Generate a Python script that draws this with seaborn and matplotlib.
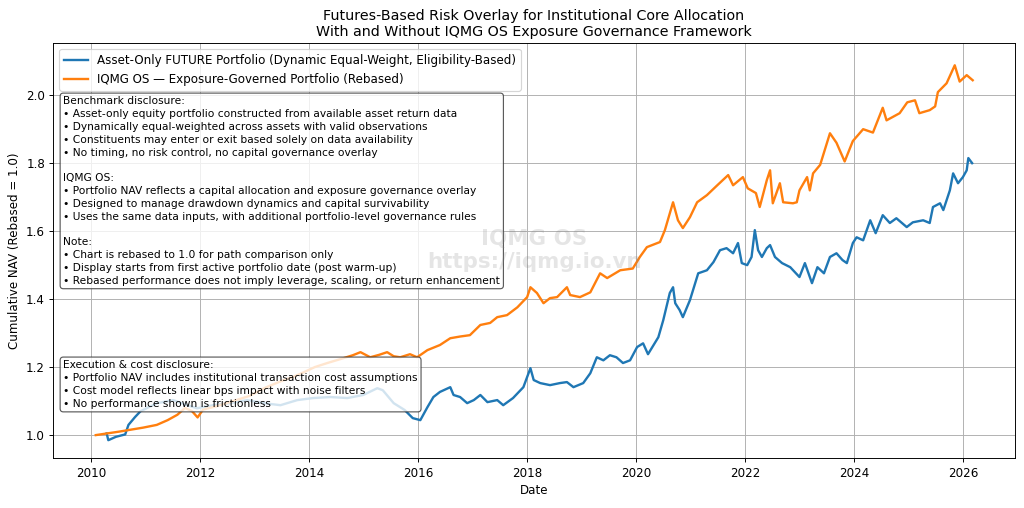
import numpy as np
import pandas as pd
import seaborn as sns
import matplotlib.pyplot as plt

# decimal-year time stamps and NAV readings
iqmg_t = [2010.08, 2010.50, 2010.95, 2011.20, 2011.40, 2011.58, 2011.72, 2011.85, 2011.95,
          2012.05, 2012.30, 2012.60, 2012.90, 2013.20, 2013.50, 2013.70, 2013.90, 2014.10,
          2014.33, 2014.62, 2014.80, 2014.94, 2015.12, 2015.28, 2015.43, 2015.55, 2015.67,
          2015.85, 2015.98, 2016.17, 2016.40, 2016.59, 2016.77, 2016.95, 2017.14, 2017.32,
          2017.45, 2017.63, 2017.82, 2018.00, 2018.06, 2018.18, 2018.30, 2018.42, 2018.55,
          2018.73, 2018.79, 2018.97, 2019.16, 2019.34, 2019.47, 2019.71, 2019.94, 2020.07,
          2020.20, 2020.44, 2020.53, 2020.68, 2020.77, 2020.86, 2020.99, 2021.12, 2021.30,
          2021.49, 2021.69, 2021.78, 2021.96, 2022.05, 2022.20, 2022.27, 2022.40, 2022.46,
          2022.51, 2022.64, 2022.70, 2022.88, 2022.95, 2023.00, 2023.14, 2023.19, 2023.25,
          2023.38, 2023.56, 2023.68, 2023.83, 2023.98, 2024.17, 2024.35, 2024.53, 2024.60,
          2024.84, 2024.98, 2025.12, 2025.20, 2025.39, 2025.49, 2025.54, 2025.70, 2025.85,
          2025.94, 2026.07, 2026.18]
iqmg_nav = [1.000, 1.010, 1.022, 1.030, 1.044, 1.060, 1.080, 1.070, 1.052,
            1.075, 1.085, 1.100, 1.115, 1.140, 1.160, 1.171, 1.185, 1.200,
            1.212, 1.226, 1.235, 1.244, 1.229, 1.236, 1.244, 1.232, 1.229,
            1.238, 1.229, 1.250, 1.265, 1.285, 1.290, 1.294, 1.324, 1.330,
            1.347, 1.353, 1.376, 1.406, 1.435, 1.418, 1.388, 1.403, 1.406,
            1.435, 1.412, 1.406, 1.420, 1.476, 1.462, 1.485, 1.490, 1.524,
            1.553, 1.568, 1.603, 1.685, 1.632, 1.609, 1.641, 1.685, 1.706,
            1.735, 1.765, 1.735, 1.759, 1.726, 1.712, 1.671, 1.750, 1.779,
            1.682, 1.741, 1.685, 1.682, 1.685, 1.720, 1.759, 1.720, 1.770,
            1.795, 1.888, 1.860, 1.805, 1.865, 1.900, 1.890, 1.963, 1.926,
            1.947, 1.979, 1.985, 1.947, 1.956, 1.967, 2.009, 2.035, 2.088,
            2.040, 2.059, 2.044]

asset_t = [2010.28, 2010.31, 2010.45, 2010.62, 2010.68, 2010.80, 2010.90, 2011.05, 2011.21,
           2011.50, 2011.76, 2011.94, 2012.24, 2012.55, 2012.86, 2013.16, 2013.47, 2013.78,
           2014.07, 2014.39, 2014.70, 2014.99, 2015.25, 2015.35, 2015.55, 2015.75, 2015.90,
           2016.04, 2016.17, 2016.28, 2016.40, 2016.59, 2016.65, 2016.77, 2016.90, 2017.02,
           2017.14, 2017.27, 2017.45, 2017.56, 2017.74, 2017.93, 2018.06, 2018.12, 2018.24,
           2018.42, 2018.60, 2018.73, 2018.85, 2019.03, 2019.16, 2019.28, 2019.40, 2019.52,
           2019.64, 2019.76, 2019.89, 2020.02, 2020.13, 2020.22, 2020.41, 2020.50, 2020.62,
           2020.68, 2020.72, 2020.80, 2020.86, 2020.99, 2021.14, 2021.30, 2021.42, 2021.54,
           2021.66, 2021.78, 2021.87, 2021.94, 2022.04, 2022.12, 2022.18, 2022.24, 2022.31,
           2022.40, 2022.46, 2022.55, 2022.68, 2022.83, 2023.00, 2023.10, 2023.23, 2023.33,
           2023.45, 2023.56, 2023.68, 2023.79, 2023.87, 2023.98, 2024.05, 2024.17, 2024.30,
           2024.40, 2024.53, 2024.66, 2024.78, 2024.97, 2025.08, 2025.27, 2025.39, 2025.45,
           2025.58, 2025.64, 2025.76, 2025.82, 2025.91, 2026.00, 2026.07, 2026.10, 2026.17]
asset_nav = [1.005, 0.985, 0.995, 1.002, 1.030, 1.053, 1.070, 1.082, 1.094,
             1.103, 1.088, 1.079, 1.088, 1.094, 1.103, 1.094, 1.088, 1.103,
             1.109, 1.112, 1.109, 1.118, 1.138, 1.132, 1.094, 1.074, 1.050,
             1.044, 1.082, 1.112, 1.127, 1.141, 1.118, 1.112, 1.094, 1.103,
             1.118, 1.097, 1.103, 1.088, 1.109, 1.141, 1.197, 1.162, 1.153,
             1.147, 1.153, 1.156, 1.141, 1.153, 1.182, 1.229, 1.220, 1.235,
             1.229, 1.212, 1.220, 1.259, 1.270, 1.238, 1.288, 1.338, 1.418,
             1.435, 1.388, 1.368, 1.347, 1.397, 1.476, 1.485, 1.509, 1.544,
             1.550, 1.535, 1.565, 1.506, 1.500, 1.524, 1.603, 1.544, 1.524,
             1.550, 1.559, 1.524, 1.506, 1.494, 1.465, 1.506, 1.447, 1.494,
             1.476, 1.524, 1.535, 1.515, 1.506, 1.565, 1.582, 1.573, 1.632,
             1.594, 1.647, 1.624, 1.638, 1.612, 1.626, 1.632, 1.624, 1.671,
             1.682, 1.662, 1.720, 1.770, 1.741, 1.759, 1.779, 1.815, 1.800]

asset_label = "Asset-Only FUTURE Portfolio (Dynamic Equal-Weight, Eligibility-Based)"
iqmg_label = "IQMG OS \u2014 Exposure-Governed Portfolio (Rebased)"


def to_dates(years):
    years = np.asarray(years)
    base = pd.to_datetime(np.floor(years).astype(int).astype(str), format="%Y")
    return base + pd.to_timedelta((years - np.floor(years)) * 365.25, unit="D")


DPI = 85.33
fig, ax = plt.subplots(figsize=(1024 / DPI, 508 / DPI), dpi=DPI)

sns.lineplot(x=to_dates(asset_t), y=asset_nav, ax=ax, color="tab:blue", linewidth=2, label=asset_label)
sns.lineplot(x=to_dates(iqmg_t), y=iqmg_nav, ax=ax, color="tab:orange", linewidth=2, label=iqmg_label)

ax.set_xlim(pd.Timestamp("2009-04-20"), pd.Timestamp("2026-12-15"))
ax.set_ylim(0.932, 2.153)
ax.grid(True)
ax.set_xlabel("Date")
ax.set_ylabel("Cumulative NAV (Rebased = 1.0)")
ax.set_title("Futures-Based Risk Overlay for Institutional Core Allocation\n"
             "With and Without IQMG OS Exposure Governance Framework", fontsize=12)
ax.legend(loc="upper left", fontsize=10)

benchmark_txt = (
    "Benchmark disclosure:\n"
    "\u2022 Asset-only equity portfolio constructed from available asset return data\n"
    "\u2022 Dynamically equal-weighted across assets with valid observations\n"
    "\u2022 Constituents may enter or exit based solely on data availability\n"
    "\u2022 No timing, no risk control, no capital governance overlay\n"
    "\n"
    "IQMG OS:\n"
    "\u2022 Portfolio NAV reflects a capital allocation and exposure governance overlay\n"
    "\u2022 Designed to manage drawdown dynamics and capital survivability\n"
    "\u2022 Uses the same data inputs, with additional portfolio-level governance rules\n"
    "\n"
    "Note:\n"
    "\u2022 Chart is rebased to 1.0 for path comparison only\n"
    "\u2022 Display starts from first active portfolio date (post warm-up)\n"
    "\u2022 Rebased performance does not imply leverage, scaling, or return enhancement"
)
cost_txt = (
    "Execution & cost disclosure:\n"
    "\u2022 Portfolio NAV includes institutional transaction cost assumptions\n"
    "\u2022 Cost model reflects linear bps impact with noise filters\n"
    "\u2022 No performance shown is frictionless"
)
box = dict(boxstyle="round,pad=0.3", facecolor="white", edgecolor="#333333", alpha=0.8)
ax.text(0.0105, 0.872, benchmark_txt, transform=ax.transAxes, fontsize=9, va="top", ha="left",
        linespacing=1.35, bbox=box)
ax.text(0.0105, 0.236, cost_txt, transform=ax.transAxes, fontsize=9, va="top", ha="left",
        linespacing=1.35, bbox=box)

ax.text(0.5, 0.5, "IQMG OS\nhttps://iqmg.io.vn", transform=ax.transAxes, fontsize=18,
        fontweight="bold", color="gray", alpha=0.2, ha="center", va="center")

plt.subplots_adjust(left=0.052, right=0.991, top=0.915, bottom=0.098)
plt.savefig("out.png", dpi=DPI)
